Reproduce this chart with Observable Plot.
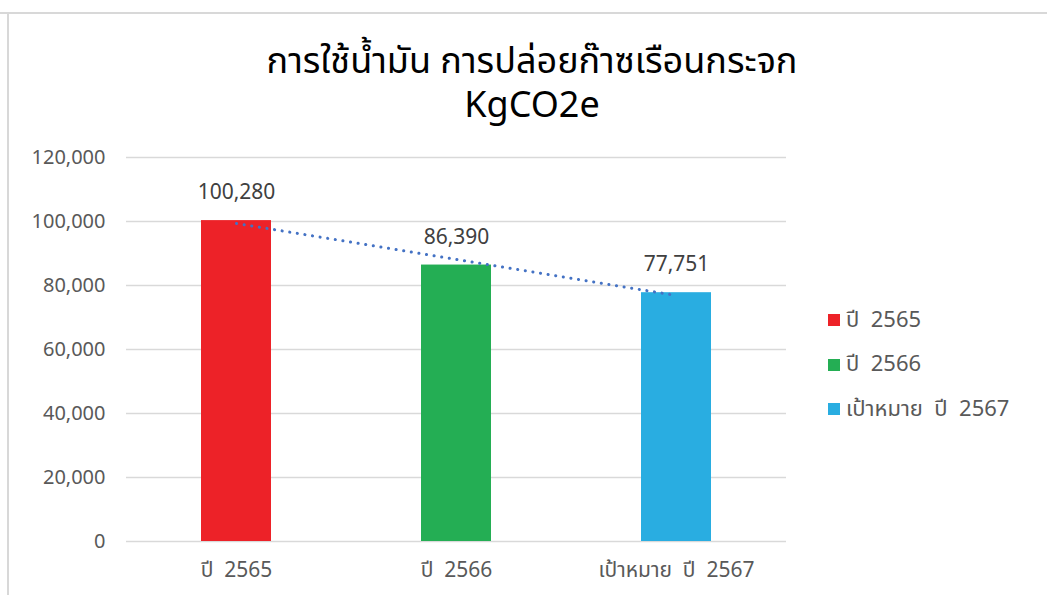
<!DOCTYPE html>
<html>
<head>
<meta charset="utf-8">
<script src="https://cdn.jsdelivr.net/npm/d3@7"></script>
<script src="https://cdn.jsdelivr.net/npm/@observablehq/plot@0.6"></script>
<style>
  html, body { margin: 0; padding: 0; background: #fff; }
  #wrap { position: relative; width: 1047px; height: 595px; overflow: hidden; background: #fff;
          font-family: "Segoe UI", "Leelawadee UI", Tahoma, "Noto Sans Thai", "Noto Sans", "Open Sans", sans-serif; }
  #sheetTop { position: absolute; left: 0; top: 12px; width: 1047px; height: 2px; background: #d8d8d8; }
  #sheetLeft { position: absolute; left: 7px; top: 12px; width: 2px; height: 583px; background: #d8d8d8; }
  .tline { position: absolute; left: 0; width: 1064px; text-align: center; color: #000;
           font-size: 36px; line-height: 40px; height: 40px; }
  #t1 { top: 42px; }
  #t2 { top: 86px; }
  #chart { position: absolute; left: 0; top: 140px; }
  #legend { position: absolute; left: 828px; top: 298px; color: #595959; font-size: 22px; }
  .item { display: flex; align-items: center; height: 44.5px; }
  .sw { width: 12px; height: 12px; margin-right: 6px; }
</style>
</head>
<body>
<div id="wrap">
  <div id="sheetTop"></div>
  <div id="sheetLeft"></div>
  <div class="tline" id="t1">การใช้น้ำมัน การปล่อยก๊าซเรือนกระจก</div>
  <div class="tline" id="t2">KgCO2e</div>
  <div id="chart"></div>
  <div id="legend"></div>
</div>
<script>
const categories = ["ปี  2565", "ปี  2566", "เป้าหมาย  ปี  2567"];
const values = [100280, 86390, 77751];
const colors = ["#ED2228", "#24AE54", "#29ADE1"];
const yTicks = [0, 20000, 40000, 60000, 80000, 100000, 120000];

const data = categories.map((c, i) => ({category: c, value: values[i], color: colors[i], idx: i + 1}));

// linear trendline (least squares) computed from the data
const mx = d3.mean(data, d => d.idx), my = d3.mean(data, d => d.value);
const slope = d3.sum(data, d => (d.idx - mx) * (d.value - my)) / d3.sum(data, d => (d.idx - mx) ** 2);
const trend = data.map(d => ({category: d.category, value: my + slope * (d.idx - mx)}));

const fmt = d3.format(",");

const plot = Plot.plot({
  width: 1047,
  height: 455,
  marginTop: 17,
  marginBottom: 54,
  marginLeft: 126,
  marginRight: 261,
  style: {fontFamily: "'Segoe UI', 'Leelawadee UI', Tahoma, 'Noto Sans Thai', 'Noto Sans', 'Open Sans', sans-serif", color: "#595959", background: "transparent", overflow: "visible"},
  x: {domain: categories, paddingInner: 0.68, paddingOuter: 0.34, label: null},
  y: {domain: [0, 120000], label: null},
  marks: [
    Plot.ruleY(yTicks, {stroke: "#d9d9d9", strokeWidth: 1.3}),
    Plot.barY(data, {x: "category", y: "value", fill: "color"}),
    Plot.line(trend, {x: "category", y: "value", stroke: "#4472C4", strokeWidth: 3,
      strokeDasharray: "0.1 7.6", strokeLinecap: "round"}),
    Plot.text(data, {x: "category", y: "value", text: d => fmt(d.value), dy: -28,
      fontSize: 21, fill: "#404040"}),
    Plot.axisY(yTicks, {tickSize: 0, tickPadding: 21, tickFormat: fmt, fontSize: 20, fill: "#595959"}),
    Plot.axisX({tickSize: 0, tickPadding: 21, fontSize: 21, fill: "#595959"})
  ]
});
document.getElementById("chart").appendChild(plot);

const legend = document.getElementById("legend");
data.forEach(d => {
  const item = document.createElement("div");
  item.className = "item";
  const sw = document.createElement("div");
  sw.className = "sw";
  sw.style.background = d.color;
  const lab = document.createElement("span");
  lab.textContent = d.category;
  lab.style.whiteSpace = "pre";
  item.appendChild(sw);
  item.appendChild(lab);
  legend.appendChild(item);
});
</script>
</body>
</html>
